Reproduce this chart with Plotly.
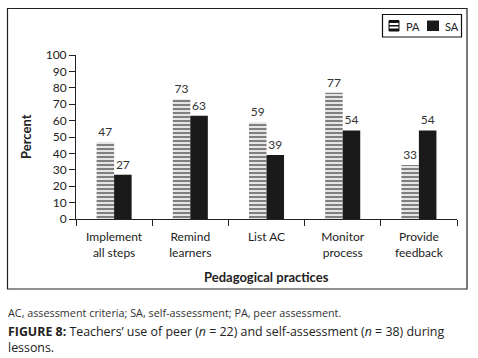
import plotly.graph_objects as go

categories = ["Implement<br>all steps", "Remind<br>learners", "List AC", "Monitor<br>process", "Provide<br>feedback"]
pa_values = [47, 73, 59, 77, 33]
sa_values = [27, 63, 39, 54, 54]
y_ticks = [0, 10, 20, 30, 40, 50, 60, 70, 80, 90, 100]

W, H = 478, 358
L, R, T, B = 76, 21, 55, 139
pw, ph = W - L - R, H - T - B

def xp(px):
    return (px - L) / pw

def yp(py):
    return (H - B - py) / ph

CH = "Lato"
fig = go.Figure()
fig.add_trace(go.Bar(
    name="PA", x=categories, y=pa_values, text=pa_values, textposition="outside",
    marker=dict(color="white", line=dict(width=0),
                pattern=dict(shape="-", fgcolor="#000", bgcolor="white", size=4, solidity=0.6)),
    textfont=dict(family=CH, size=12, color="#333"), cliponaxis=False,
))
fig.add_trace(go.Bar(
    name="SA", x=categories, y=sa_values, text=sa_values, textposition="outside",
    marker=dict(color="#1a1a1a", line=dict(width=0)),
    textfont=dict(family=CH, size=12, color="#333"), cliponaxis=False,
))

fig.update_layout(
    width=W, height=H, margin=dict(l=L, r=R, t=T, b=B, autoexpand=False),
    paper_bgcolor="white", plot_bgcolor="white",
    barmode="group", bargap=0.54, bargroupgap=0,
    font=dict(family=CH, size=12, color="#222"),
    showlegend=False,
    xaxis=dict(showline=True, linecolor="#222", linewidth=1, ticks="outside", tickson="boundaries",
               ticklen=6, tickcolor="#222", showgrid=False, ticklabelstandoff=7,
               tickfont=dict(family=CH, size=12, color="#222")),
    yaxis=dict(range=[0, 100], tickvals=y_ticks, showline=True, linecolor="#222", linewidth=1,
               ticks="outside", ticklen=6, tickcolor="#222", showgrid=False, zeroline=False,
               tickfont=dict(family=CH, size=12, color="#222")),
)

# outer frame
fig.add_shape(type="rect", xref="paper", yref="paper", x0=xp(7.5), x1=xp(467), y0=yp(8.5), y1=yp(289),
              line=dict(color="#222", width=1.2), layer="below")

# legend box (custom)
fig.add_shape(type="rect", xref="paper", yref="paper", x0=xp(382.5), x1=xp(461.5), y0=yp(14.5), y1=yp(37),
              line=dict(color="#111", width=1.2), fillcolor="white")
# PA symbol: striped square
fig.add_shape(type="rect", xref="paper", yref="paper", x0=xp(389), x1=xp(399), y0=yp(20.5), y1=yp(31),
              line=dict(color="#111", width=1), fillcolor="white")
for sy in [(20.5, 23), (25, 26.5), (28.5, 31)]:
    fig.add_shape(type="rect", xref="paper", yref="paper", x0=xp(389), x1=xp(399), y0=yp(sy[0]), y1=yp(sy[1]),
                  line=dict(width=0), fillcolor="#111")
# SA symbol: solid square
fig.add_shape(type="rect", xref="paper", yref="paper", x0=xp(427), x1=xp(439), y0=yp(20.5), y1=yp(31),
              line=dict(width=0), fillcolor="#1a1a1a")
fig.add_annotation(text="PA", xref="paper", yref="paper", x=xp(403.5), y=yp(26), xanchor="left", yanchor="middle",
                   showarrow=False, font=dict(family=CH, size=11, color="#222"))
fig.add_annotation(text="SA", xref="paper", yref="paper", x=xp(442.5), y=yp(26), xanchor="left", yanchor="middle",
                   showarrow=False, font=dict(family=CH, size=11, color="#222"))

fig.add_annotation(text="<b>Pedagogical practices</b>", xref="paper", yref="paper",
                   x=0.5, y=yp(277), xanchor="center", yanchor="middle", showarrow=False,
                   font=dict(family=CH, size=13, color="#222"))
fig.add_annotation(text="<b>Percent</b>", xref="paper", yref="paper", textangle=-90,
                   x=xp(26), y=yp(137), xanchor="center", yanchor="middle", showarrow=False,
                   font=dict(family=CH, size=13, color="#222"))
fig.add_annotation(text="AC, assessment criteria; SA, self-assessment; PA, peer assessment.",
                   xref="paper", yref="paper", x=xp(6), y=yp(312), xanchor="left", yanchor="middle",
                   showarrow=False, font=dict(family="Open Sans", size=10.8, color="#333"))
fig.add_annotation(text="<b>FIGURE 8:</b> Teachers’ use of peer (<i>n</i> = 22) and self-assessment (<i>n</i> = 38) during",
                   xref="paper", yref="paper", x=xp(6), y=yp(331), xanchor="left", yanchor="middle",
                   showarrow=False, font=dict(family="Open Sans", size=12.4, color="#222"))
fig.add_annotation(text="lessons.",
                   xref="paper", yref="paper", x=xp(6), y=yp(347), xanchor="left", yanchor="middle",
                   showarrow=False, font=dict(family="Open Sans", size=12.4, color="#222"))

fig.write_html("out.html", post_script="document.body.style.margin='0';",
               config={"displayModeBar": False})
